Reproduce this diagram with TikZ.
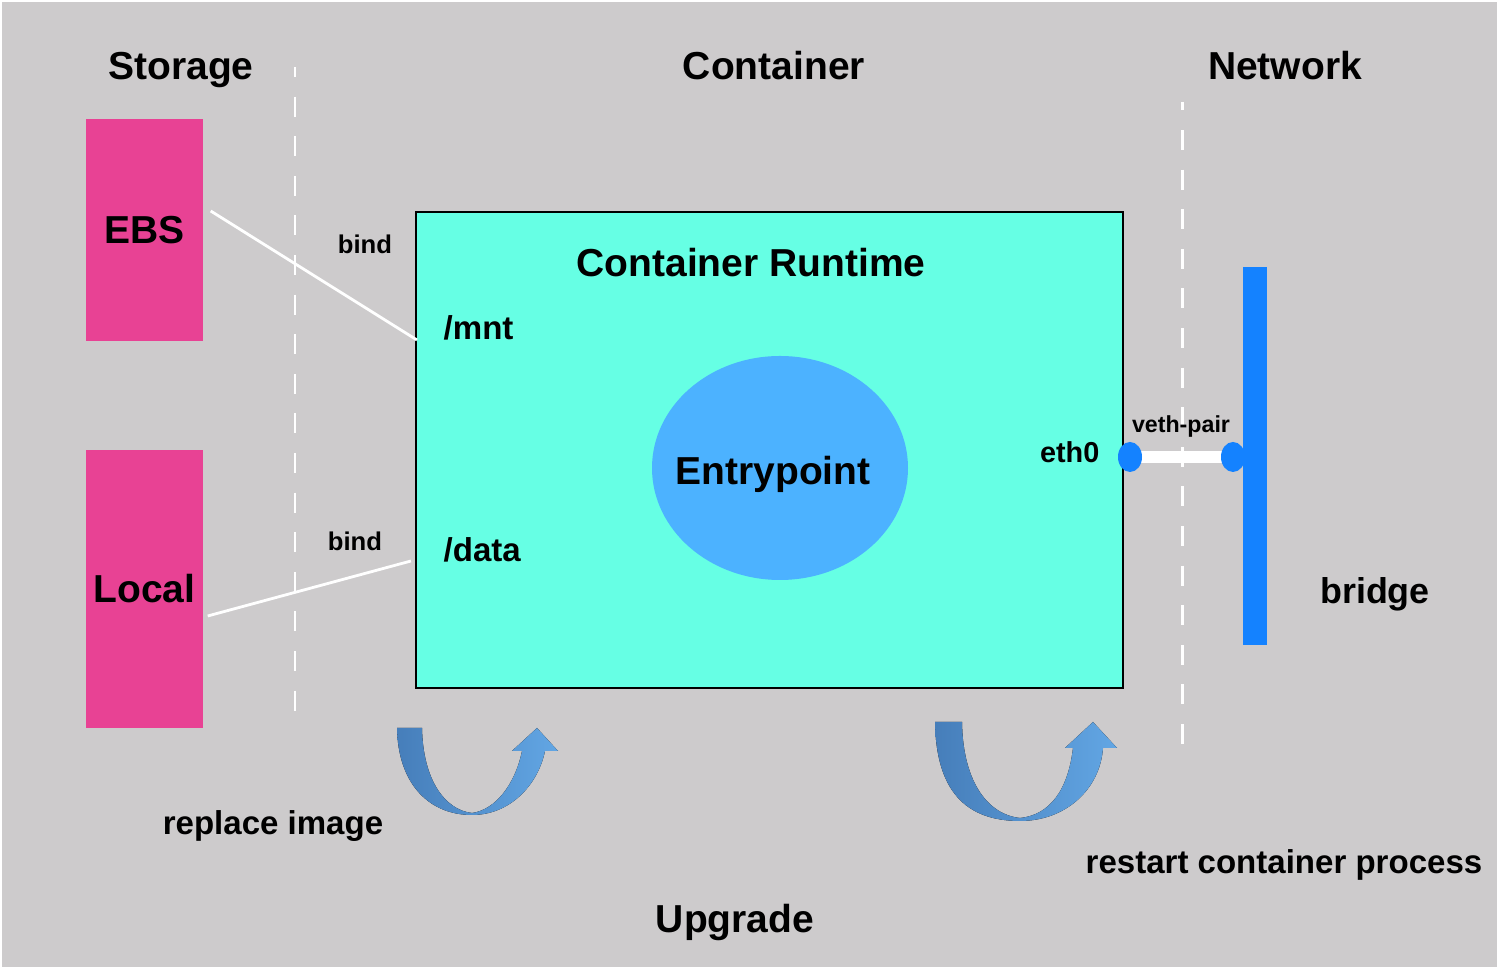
\documentclass[tikz,border=0pt]{standalone}
\usepackage{fontspec}
\setmainfont{Liberation Sans}
\usetikzlibrary{calc,shapes.geometric,backgrounds}
\definecolor{bggray}{RGB}{205,203,204}
\definecolor{volpink}{RGB}{232,66,148}
\definecolor{rtaqua}{RGB}{102,255,228}
\definecolor{epblue}{RGB}{76,178,255}
\definecolor{netblue}{RGB}{20,130,255}
\definecolor{updark}{RGB}{70,126,186}
\definecolor{uplight}{RGB}{98,166,228}

\begin{document}
\begin{tikzpicture}[
      ttl/.style={font=\fontsize{11.1}{13}\selectfont\bfseries, inner sep=0pt},
      lbl/.style={font=\fontsize{9.4}{11}\selectfont\bfseries, inner sep=0pt},
      sml/.style={font=\fontsize{7.3}{9}\selectfont\bfseries, inner sep=0pt},
      vol/.style={rectangle, fill=volpink, minimum width=1.17cm, inner sep=0pt,
                  font=\fontsize{11.1}{13}\selectfont\bfseries},
      rt/.style={rectangle, draw=black, line width=0.6pt, fill=rtaqua,
                 minimum width=7.07cm, minimum height=4.76cm},
      ep/.style={ellipse, fill=epblue, minimum width=2.56cm, minimum height=2.24cm, inner sep=0pt},
      blob/.style={ellipse, fill=netblue, minimum width=0.24cm, minimum height=0.30cm, inner sep=0pt},
      bar/.style={rectangle, fill=netblue, minimum width=0.24cm, minimum height=3.78cm, inner sep=0pt},
      divider/.style={white, line width=0.85pt, dash pattern=on 0.20cm off 0.196cm},
      bindln/.style={white, line width=0.8pt},
      upgr/.style={left color=updark, right color=uplight},
    ]
    \useasboundingbox (0,0) rectangle (15,9.7);
    \begin{scope}[on background layer]
      \fill[white] (0,0) rectangle (15,9.7);
      \fill[bggray] (0.02,0.03) rectangle (14.97,9.68);
    \end{scope}

    \node[ttl] (tstor) at (1.81,9.00) {Storage};
    \node[ttl] (tcont) at (7.74,9.04) {Container};
    \node[ttl] (tnet)  at (12.85,9.04) {Network};

    \draw[divider, dash phase=0.10cm]  (2.95,9.03) -- (2.95,2.59);
    \draw[divider, dash phase=0.116cm] (11.82,8.68) -- (11.82,2.26);

    \node[vol, minimum height=2.22cm] (ebs)   at (1.445,7.40) {EBS};
    \node[vol, minimum height=2.78cm] (local) at (1.445,3.81) {Local};

    \node[rt] (rt) at (7.695,5.20) {};
    \node[ttl] (rtname) at (7.51,7.07) {Container Runtime};
    \node[lbl, anchor=west] (mnt)  at (4.43,6.42) {/mnt};
    \node[lbl, anchor=west] (data) at (4.43,4.20) {/data};
    \node[ep] (ep) at (7.80,5.02) {};
    \node[ttl] (eplbl) at (7.73,4.96) {Entrypoint};
    \node[font=\fontsize{8.2}{10}\selectfont\bfseries, inner sep=0pt, anchor=east] (eth) at (11.00,5.18) {eth0};

    \node[sml] (bind1) at (3.65,7.26) {bind};
    \node[sml] (bind2) at (3.55,4.29) {bind};
    \draw[bindln] ($(ebs.east)+(0.07,0.19)$) -- ($(rt.west)+(0.02,1.10)$);
    \draw[bindln] ($(local.east)+(0.04,-0.27)$) -- ($(rt.west)+(-0.04,-1.11)$);

    \node[blob] (vethl) at (11.30,5.13) {};
    \node[blob] (vethr) at (12.33,5.13) {};
    \node[bar] (br) at (12.55,5.14) {};
    \begin{scope}[on background layer]
      \draw[white, line width=3.4pt] (vethl.center) -- (vethr.center);
    \end{scope}
    \node[font=\fontsize{6.6}{8}\selectfont\bfseries, inner sep=0pt] (vethlbl) at (11.81,5.43) {veth-pair};
    \node[font=\fontsize{10.2}{12}\selectfont\bfseries, inner sep=0pt] (brlbl) at (13.75,3.76) {bridge};

    \fill[upgr] (3.97,2.42) .. controls (3.98,1.85) and (4.30,1.55) .. (4.72,1.55)
      .. controls (5.10,1.55) and (5.38,1.85) .. (5.45,2.19) -- (5.58,2.19) -- (5.37,2.42)
      -- (5.12,2.19) -- (5.22,2.19) .. controls (5.15,1.85) and (4.95,1.60) .. (4.72,1.57)
      .. controls (4.45,1.60) and (4.23,1.90) .. (4.22,2.42) -- cycle;
    \fill[upgr] (9.35,2.48) .. controls (9.36,1.80) and (9.65,1.49) .. (10.20,1.49)
      .. controls (10.65,1.49) and (11.00,1.80) .. (11.03,2.22) -- (11.17,2.22) -- (10.93,2.48)
      -- (10.65,2.22) -- (10.73,2.22) .. controls (10.68,1.80) and (10.50,1.55) .. (10.20,1.52)
      .. controls (9.90,1.55) and (9.63,1.85) .. (9.62,2.48) -- cycle;

    \node[lbl] (repl) at (2.73,1.44) {replace image};
    \node[lbl] (rest) at (12.84,1.05) {restart container process};
    \node[ttl] (upg)  at (7.35,0.47) {Upgrade};
  \end{tikzpicture}
\end{document}
